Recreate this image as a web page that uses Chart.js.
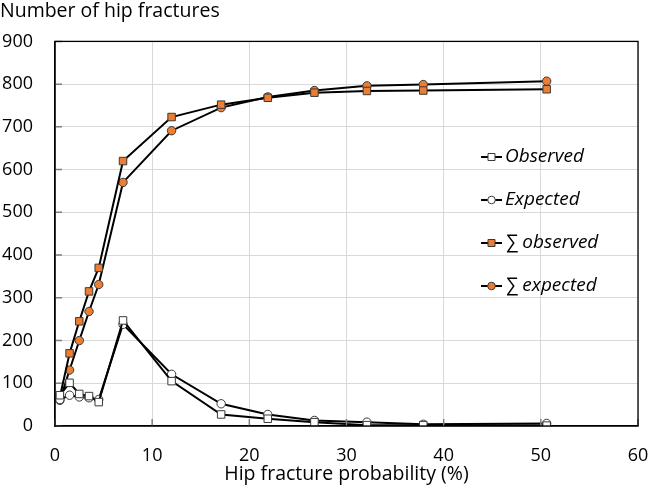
<!DOCTYPE html>
<html>
<head>
<meta charset="utf-8">
<script src="https://cdn.jsdelivr.net/npm/chart.js@4/dist/chart.umd.min.js"></script>
<style>
  html,body{margin:0;padding:0;background:#fff;}
  #wrap{width:649px;height:486px;}
</style>
</head>
<body>
<div id="wrap"><canvas id="chart" width="649" height="486"></canvas></div>
<script>
// data
const probability = [0.5, 1.5, 2.5, 3.5, 4.5, 7.0, 12.0, 17.1, 21.9, 26.7, 32.1, 37.9, 50.6];
const observed    = [72, 101, 75, 70, 56, 247, 105, 27, 17, 9, 2, 2, 1];
const expected    = [62, 72, 68, 66, 62, 238, 121, 52, 27, 13, 9, 4, 6];
const cumObserved = [68, 170, 245, 315, 370, 620, 723, 752, 768, 780, 784, 785, 788];
const cumExpected = [60, 131, 200, 268, 331, 570, 691, 745, 770, 785, 796, 799, 807];
const seriesNames = ["Observed", "Expected", "\u2211 observed", "\u2211 expected"];
const xTicks = [0, 10, 20, 30, 40, 50, 60];
const yTicks = [0, 100, 200, 300, 400, 500, 600, 700, 800, 900];

const FONT = "'Open Sans', 'DejaVu Sans', sans-serif";
const ORANGE = "#ED7D31";

function pts(ys){
  return probability.map((x,i)=>({x:x, y:ys[i]}));
}

function series(label, ys, style, fill, radius){
  return {
    label:label,
    data:pts(ys),
    borderColor:"#000",
    borderWidth:2,
    pointStyle:style,
    pointRadius:radius,
    pointBackgroundColor:fill,
    pointBorderColor:"#3a3a3a",
    pointBorderWidth:1,
    tension:0
  };
}

// frame + inside tick marks
const framePlugin = {
  id:"frame",
  afterDatasetsDraw(chart){
    const {ctx, chartArea:a, scales:{x, y}} = chart;
    ctx.save();
    ctx.strokeStyle = "#808080";
    ctx.lineWidth = 1.5;
    ctx.beginPath();
    xTicks.forEach(v=>{
      const px = x.getPixelForValue(v);
      ctx.moveTo(px, a.bottom); ctx.lineTo(px, a.bottom - 7);
    });
    yTicks.forEach(v=>{
      const py = y.getPixelForValue(v);
      ctx.moveTo(a.left, py); ctx.lineTo(a.left + 7, py);
    });
    ctx.stroke();
    ctx.strokeStyle = "#000";
    ctx.lineWidth = 1.3;
    ctx.strokeRect(a.left, a.top, a.right - a.left, a.bottom - a.top);
    ctx.restore();
  }
};

// legend drawn inside the plot area
const legendPlugin = {
  id:"insideLegend",
  afterDraw(chart){
    const ctx = chart.ctx;
    const x0 = 481, y0 = 157, step = 43;
    ctx.save();
    chart.data.datasets.forEach((ds,i)=>{
      const cy = y0 + i*step;
      ctx.strokeStyle = "#000";
      ctx.lineWidth = 2;
      ctx.beginPath();
      ctx.moveTo(x0, cy); ctx.lineTo(x0 + 21, cy);
      ctx.stroke();
      ctx.fillStyle = ds.pointBackgroundColor;
      ctx.strokeStyle = ds.pointBorderColor;
      ctx.lineWidth = 1;
      ctx.beginPath();
      if(ds.pointStyle === "rect"){
        ctx.rect(x0 + 7, cy - 3.5, 7, 7);
      } else {
        ctx.arc(x0 + 10.5, cy, 3.8, 0, Math.PI*2);
      }
      ctx.fill(); ctx.stroke();
      ctx.fillStyle = "#000";
      ctx.font = "italic 19px " + FONT;
      ctx.textBaseline = "middle";
      ctx.textAlign = "left";
      ctx.fillText(ds.label, x0 + 24, cy);
    });
    ctx.restore();
  }
};

new Chart(document.getElementById("chart"), {
  type:"line",
  data:{
    datasets:[
      series(seriesNames[0], observed, "rect", "#fff", 5.3),
      series(seriesNames[1], expected, "circle", "#fff", 4.2),
      series(seriesNames[2], cumObserved, "rect", ORANGE, 5.3),
      series(seriesNames[3], cumExpected, "circle", ORANGE, 4.2)
    ]
  },
  options:{
    responsive:false,
    animation:false,
    layout:{padding:{left:0, right:0, top:0, bottom:0}},
    plugins:{
      legend:{display:false},
      tooltip:{enabled:false},
      title:{
        display:true,
        text:"Number of hip fractures",
        align:"start",
        color:"#000",
        font:{family:FONT, size:19.5, weight:"normal"},
        padding:{top:0, bottom:18}
      }
    },
    scales:{
      x:{
        type:"linear",
        min:0, max:60,
        afterBuildTicks(s){ s.ticks = xTicks.map(v=>({value:v})); },
        afterFit(s){ s.height = 60; s.paddingRight = 11; s.paddingLeft = 0; },
        grid:{color:"#d9d9d9", lineWidth:1, drawTicks:false},
        border:{color:"#000", width:1.3},
        ticks:{color:"#000", padding:19, font:{family:FONT, size:18}, maxRotation:0},
        title:{
          display:true,
          text:"Hip fracture probability (%)",
          color:"#000",
          font:{family:FONT, size:19.5},
          padding:{top:0, bottom:0}
        }
      },
      y:{
        min:0, max:900,
        afterBuildTicks(s){ s.ticks = yTicks.map(v=>({value:v})); },
        afterFit(s){ s.width = 55; },
        grid:{color:"#d9d9d9", lineWidth:1, drawTicks:false},
        border:{color:"#000", width:1.3},
        ticks:{color:"#000", padding:22, font:{family:FONT, size:18}}
      }
    }
  },
  plugins:[framePlugin, legendPlugin]
});
</script>
</body>
</html>
